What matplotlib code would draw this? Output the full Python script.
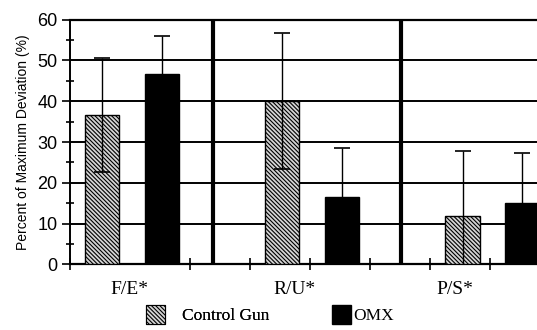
import matplotlib

matplotlib.use("Agg")

import matplotlib.pyplot as plt
from matplotlib.patches import Patch
from matplotlib.ticker import MultipleLocator

# data
categories = ["F/E*", "R/U*", "P/S*"]
series_names = ["Control Gun", "OMX"]
control_means = [36.6, 40.1, 12.0]
control_err = [14.0, 16.7, 15.8]
omx_means = [46.8, 16.5, 15.1]
omx_err = [9.2, 12.0, 12.2]
y_ticks = [0, 10, 20, 30, 40, 50, 60]

# layout (axis units: one minor x tick per unit)
GROUP_STEP = 3.0
CONTROL_OFFSET = 0.54
OMX_OFFSET = 1.53
BAR_WIDTH = 0.57
SEPARATORS = [2.39, 5.51]
LABEL_POS = [1.0, 3.74, 6.41]
HATCH = "\\" * 8
CONTROL_FACE = "#d4d4d4"

plt.rcParams["hatch.linewidth"] = 0.8
plt.rcParams["hatch.color"] = "#3a3a3a"

fig = plt.figure(figsize=(5.37, 3.30), dpi=100)
fig.patch.set_facecolor("white")
ax = fig.add_axes([0.130, 0.1985, 0.88, 0.742])

ax.set_xlim(0, 7.87)
ax.set_ylim(0, 60)

group_x = [i * GROUP_STEP for i in range(len(categories))]
control_x = [g + CONTROL_OFFSET for g in group_x]
omx_x = [g + OMX_OFFSET for g in group_x]

ax.bar(control_x, control_means, width=BAR_WIDTH, facecolor=CONTROL_FACE,
       edgecolor="black", linewidth=1.0, hatch=HATCH, zorder=3)
ax.bar(omx_x, omx_means, width=BAR_WIDTH, color="black",
       edgecolor="black", linewidth=1.0, zorder=3)

ax.errorbar(control_x, control_means, yerr=control_err, fmt="none",
            ecolor="black", elinewidth=1.0, capsize=6, capthick=1.2, zorder=4)
ax.errorbar(omx_x, omx_means, yerr=omx_err, fmt="none",
            ecolor="black", elinewidth=1.0, capsize=6, capthick=1.2, zorder=4)

# horizontal grid and group separators
for y in y_ticks[1:-1]:
    ax.axhline(y, color="black", linewidth=1.4, zorder=1)
for sx in SEPARATORS:
    ax.axvline(sx, color="black", linewidth=3, zorder=2)

ax.spines["right"].set_visible(False)
ax.spines["top"].set_linewidth(1.6)
ax.spines["left"].set_linewidth(1.4)
ax.spines["bottom"].set_linewidth(1.6)

ax.set_yticks(y_ticks)
ax.yaxis.set_minor_locator(MultipleLocator(5))
ax.tick_params(axis="y", which="major", direction="out", length=6,
               width=1.2, pad=3, labelsize=13)
ax.tick_params(axis="y", which="minor", direction="inout", length=6, width=1.2)
for lab in ax.get_yticklabels():
    lab.set_fontfamily("Liberation Sans")

ax.xaxis.set_minor_locator(MultipleLocator(1))
ax.set_xticks(LABEL_POS)
ax.set_xticklabels(categories, fontfamily="Liberation Serif", fontsize=14)
ax.tick_params(axis="x", which="major", length=0, pad=12)
ax.tick_params(axis="x", which="minor", direction="inout", length=8, width=1.2)

ax.set_ylabel("Percent of Maximum Deviation (%)", fontfamily="Liberation Sans",
              fontsize=10, labelpad=5)

legend_font = {"family": "Liberation Serif", "size": 12.5}
control_handle = Patch(facecolor=CONTROL_FACE, edgecolor="black", hatch=HATCH,
                       linewidth=0.8)
omx_handle = Patch(facecolor="black", edgecolor="black")

leg1 = fig.legend([control_handle], [series_names[0]], loc="lower left",
                  bbox_to_anchor=(0.242, -0.03), frameon=False,
                  handlelength=1.1, handleheight=1.25, handletextpad=1.0,
                  prop=legend_font)
fig.legend([omx_handle], [series_names[1]], loc="lower left",
           bbox_to_anchor=(0.589, -0.03), frameon=False,
           handlelength=1.1, handleheight=1.25, handletextpad=0.1,
           prop=legend_font)
fig.add_artist(leg1)

fig.savefig("out.png", dpi=100, facecolor="white")
